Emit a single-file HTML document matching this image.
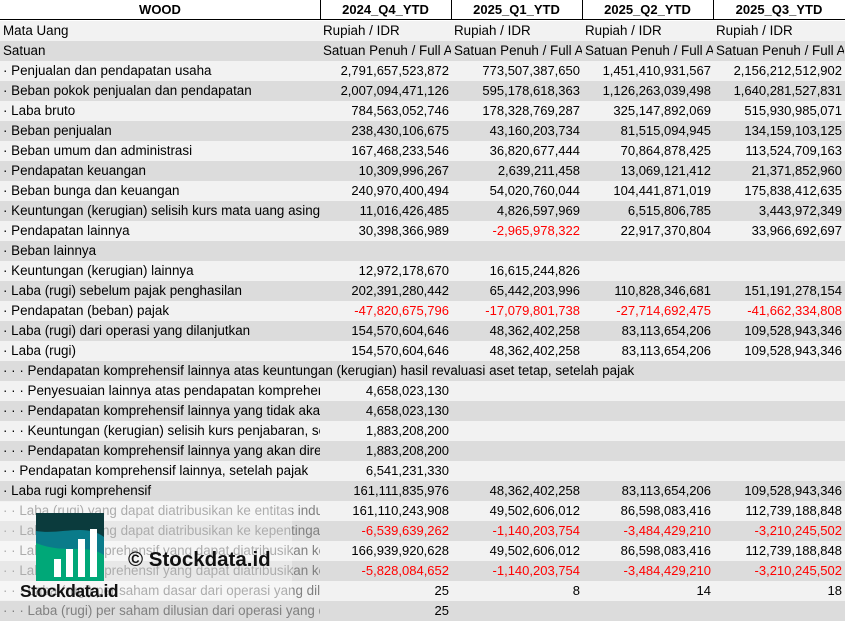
<!DOCTYPE html>
<html><head><meta charset="utf-8"><style>
*{margin:0;padding:0;box-sizing:border-box}
body{width:845px;height:621px;overflow:hidden;background:#fff;font-family:"Liberation Sans",sans-serif;font-size:13px;color:#000;position:relative}
.r{position:absolute;left:0;width:845px;height:20px;line-height:20px}
.a{background:#f2f2f2}.b{background:#dcdcdc}
.r span{position:absolute;top:0;height:20px;overflow:hidden;white-space:nowrap}
.l{left:3px;width:317px;font-size:13.4px}
.c1,.c2,.c3,.c4{text-align:right;width:129px}
.c1{left:320px}.c2{left:451px}.c3{left:582px}.c4{left:713px}
.t span.c1,.t span.c2,.t span.c3,.t span.c4{text-align:left;padding-left:3px;width:131px;font-size:13.4px}
.n{color:#f00}.g .l{color:#808080}
.h{position:absolute;top:0;height:20px;line-height:20px;font-weight:bold;text-align:center;border-bottom:1.5px solid #000}
.v{position:absolute;top:0;width:1px;height:20px;background:#000}
</style></head><body>
<div class="h" style="left:0;width:320px">WOOD</div>
<div class="h" style="left:320px;width:131px">2024_Q4_YTD</div>
<div class="h" style="left:451px;width:131px">2025_Q1_YTD</div>
<div class="h" style="left:582px;width:131px">2025_Q2_YTD</div>
<div class="h" style="left:713px;width:132px">2025_Q3_YTD</div>
<div class="v" style="left:320px"></div><div class="v" style="left:451px"></div><div class="v" style="left:582px"></div><div class="v" style="left:713px"></div>

<div class="r a t" style="top:21px"><span class="l">Mata Uang</span><span class="c1">Rupiah / IDR</span><span class="c2">Rupiah / IDR</span><span class="c3">Rupiah / IDR</span><span class="c4">Rupiah / IDR</span></div>
<div class="r b t" style="top:41px"><span class="l">Satuan</span><span class="c1">Satuan Penuh / Full Amount</span><span class="c2">Satuan Penuh / Full Amount</span><span class="c3">Satuan Penuh / Full Amount</span><span class="c4">Satuan Penuh / Full Amount</span></div>
<div class="r a" style="top:61px"><span class="l">· Penjualan dan pendapatan usaha</span><span class="c1">2,791,657,523,872</span><span class="c2">773,507,387,650</span><span class="c3">1,451,410,931,567</span><span class="c4">2,156,212,512,902</span></div>
<div class="r b" style="top:81px"><span class="l">· Beban pokok penjualan dan pendapatan</span><span class="c1">2,007,094,471,126</span><span class="c2">595,178,618,363</span><span class="c3">1,126,263,039,498</span><span class="c4">1,640,281,527,831</span></div>
<div class="r a" style="top:101px"><span class="l">· Laba bruto</span><span class="c1">784,563,052,746</span><span class="c2">178,328,769,287</span><span class="c3">325,147,892,069</span><span class="c4">515,930,985,071</span></div>
<div class="r b" style="top:121px"><span class="l">· Beban penjualan</span><span class="c1">238,430,106,675</span><span class="c2">43,160,203,734</span><span class="c3">81,515,094,945</span><span class="c4">134,159,103,125</span></div>
<div class="r a" style="top:141px"><span class="l">· Beban umum dan administrasi</span><span class="c1">167,468,233,546</span><span class="c2">36,820,677,444</span><span class="c3">70,864,878,425</span><span class="c4">113,524,709,163</span></div>
<div class="r b" style="top:161px"><span class="l">· Pendapatan keuangan</span><span class="c1">10,309,996,267</span><span class="c2">2,639,211,458</span><span class="c3">13,069,121,412</span><span class="c4">21,371,852,960</span></div>
<div class="r a" style="top:181px"><span class="l">· Beban bunga dan keuangan</span><span class="c1">240,970,400,494</span><span class="c2">54,020,760,044</span><span class="c3">104,441,871,019</span><span class="c4">175,838,412,635</span></div>
<div class="r b" style="top:201px"><span class="l">· Keuntungan (kerugian) selisih kurs mata uang asing</span><span class="c1">11,016,426,485</span><span class="c2">4,826,597,969</span><span class="c3">6,515,806,785</span><span class="c4">3,443,972,349</span></div>
<div class="r a" style="top:221px"><span class="l">· Pendapatan lainnya</span><span class="c1">30,398,366,989</span><span class="c2 n">-2,965,978,322</span><span class="c3">22,917,370,804</span><span class="c4">33,966,692,697</span></div>
<div class="r b" style="top:241px"><span class="l">· Beban lainnya</span></div>
<div class="r a" style="top:261px"><span class="l">· Keuntungan (kerugian) lainnya</span><span class="c1">12,972,178,670</span><span class="c2">16,615,244,826</span></div>
<div class="r b" style="top:281px"><span class="l">· Laba (rugi) sebelum pajak penghasilan</span><span class="c1">202,391,280,442</span><span class="c2">65,442,203,996</span><span class="c3">110,828,346,681</span><span class="c4">151,191,278,154</span></div>
<div class="r a" style="top:301px"><span class="l">· Pendapatan (beban) pajak</span><span class="c1 n">-47,820,675,796</span><span class="c2 n">-17,079,801,738</span><span class="c3 n">-27,714,692,475</span><span class="c4 n">-41,662,334,808</span></div>
<div class="r b" style="top:321px"><span class="l">· Laba (rugi) dari operasi yang dilanjutkan</span><span class="c1">154,570,604,646</span><span class="c2">48,362,402,258</span><span class="c3">83,113,654,206</span><span class="c4">109,528,943,346</span></div>
<div class="r a" style="top:341px"><span class="l">· Laba (rugi)</span><span class="c1">154,570,604,646</span><span class="c2">48,362,402,258</span><span class="c3">83,113,654,206</span><span class="c4">109,528,943,346</span></div>
<div class="r b" style="top:361px"><span class="l" style="width:840px">· · · Pendapatan komprehensif lainnya atas keuntungan (kerugian) hasil revaluasi aset tetap, setelah pajak</span></div>
<div class="r a" style="top:381px"><span class="l">· · · Penyesuaian lainnya atas pendapatan komprehensif</span><span class="c1">4,658,023,130</span></div>
<div class="r b" style="top:401px"><span class="l">· · · Pendapatan komprehensif lainnya yang tidak akan</span><span class="c1">4,658,023,130</span></div>
<div class="r a" style="top:421px"><span class="l">· · · Keuntungan (kerugian) selisih kurs penjabaran, setelah</span><span class="c1">1,883,208,200</span></div>
<div class="r b" style="top:441px"><span class="l">· · · Pendapatan komprehensif lainnya yang akan direklasifikasi</span><span class="c1">1,883,208,200</span></div>
<div class="r a" style="top:461px"><span class="l">· · Pendapatan komprehensif lainnya, setelah pajak</span><span class="c1">6,541,231,330</span></div>
<div class="r b" style="top:481px"><span class="l">· Laba rugi komprehensif</span><span class="c1">161,111,835,976</span><span class="c2">48,362,402,258</span><span class="c3">83,113,654,206</span><span class="c4">109,528,943,346</span></div>
<div class="r a g" style="top:501px"><span class="l">· · Laba (rugi) yang dapat diatribusikan ke entitas induk</span><span class="c1">161,110,243,908</span><span class="c2">49,502,606,012</span><span class="c3">86,598,083,416</span><span class="c4">112,739,188,848</span></div>
<div class="r b g" style="top:521px"><span class="l">· · Laba (rugi) yang dapat diatribusikan ke kepentingan</span><span class="c1 n">-6,539,639,262</span><span class="c2 n">-1,140,203,754</span><span class="c3 n">-3,484,429,210</span><span class="c4 n">-3,210,245,502</span></div>
<div class="r a g" style="top:541px"><span class="l">· · Laba rugi komprehensif yang dapat diatribusikan ke</span><span class="c1">166,939,920,628</span><span class="c2">49,502,606,012</span><span class="c3">86,598,083,416</span><span class="c4">112,739,188,848</span></div>
<div class="r b g" style="top:561px"><span class="l">· · Laba rugi komprehensif yang dapat diatribusikan ke</span><span class="c1 n">-5,828,084,652</span><span class="c2 n">-1,140,203,754</span><span class="c3 n">-3,484,429,210</span><span class="c4 n">-3,210,245,502</span></div>
<div class="r a g" style="top:581px"><span class="l">· · · Laba (rugi) per saham dasar dari operasi yang dilanjutkan</span><span class="c1">25</span><span class="c2">8</span><span class="c3">14</span><span class="c4">18</span></div>
<div class="r b g" style="top:601px"><span class="l">· · · Laba (rugi) per saham dilusian dari operasi yang dilanjutkan</span><span class="c1">25</span></div>

<div style="position:absolute;left:0;top:502px;width:292px;height:98px;background:rgba(255,255,255,0.35)"></div>
<svg style="position:absolute;left:36px;top:513px" width="68" height="68" viewBox="0 0 68 68">
<path d="M0 0H68V68H0Z" fill="#00a878"/>
<path d="M0 0H68V42C50 30 30 42 0 30Z" fill="#0a7b8a"/>
<path d="M0 0H68V24C50 10 25 22 0 18Z" fill="#0b3b3d"/>
<rect x="18" y="46" width="7" height="18" fill="#fff"/><rect x="30" y="36" width="7" height="28" fill="#fff"/><rect x="42" y="26" width="7" height="38" fill="#fff"/><rect x="54" y="16" width="7" height="48" fill="#fff"/>
</svg>
<div style="position:absolute;left:20px;top:581px;font-weight:bold;font-size:17.5px;color:#111;letter-spacing:-0.5px">Stockdata.id</div>
<div style="position:absolute;left:128px;top:548px;font-weight:bold;font-size:20.5px;color:#111">© Stockdata.id</div>
</body></html>
